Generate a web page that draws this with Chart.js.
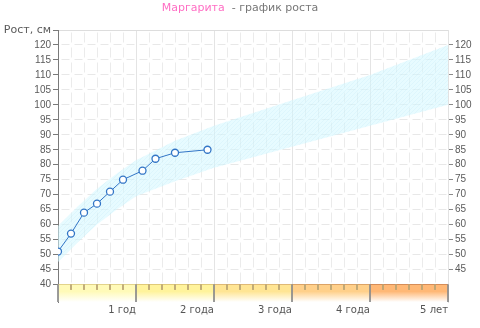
<!DOCTYPE html>
<html>
<head>
<meta charset="utf-8">
<script src="https://cdn.jsdelivr.net/npm/chart.js@4.4.1/dist/chart.umd.min.js"></script>
<style>
  body { margin: 0; background: #fff; }
  #wrap { position: relative; width: 480px; height: 328px; }
  #title {
    position: absolute; left: 0; top: 1px; width: 480px;
    text-align: center; font: 11px "DejaVu Sans", sans-serif;
    line-height: 14px; color: #777;
  }
  #title .name { color: #ff6ec4; }
</style>
</head>
<body>
<div id="wrap">
  <canvas id="chart" width="480" height="328"></canvas>
  <div id="title"><span class="name">Маргарита</span>&nbsp; - график роста</div>
</div>
<script>
// measured growth (age in months, height in cm)
const ageMonths = [0, 2, 4, 6, 8, 10, 13, 15, 18, 23];
const heightCm = [51, 57, 64, 67, 71, 75, 78, 82, 84, 85];

// norm corridor
const bandMonths = [0, 3, 6, 9, 12, 18, 24, 36, 48, 60];
const bandLow = [47.5, 54, 60, 65, 69.5, 74.5, 79, 86, 93, 100];
const bandHigh = [59.5, 66, 72, 77, 81.5, 88, 93, 101.5, 110, 120];

// axes
const leftTicks = [40, 45, 50, 55, 60, 65, 70, 75, 80, 85, 90, 95, 100, 105, 110, 115, 120, 125];
const rightTicks = [45, 50, 55, 60, 65, 70, 75, 80, 85, 90, 95, 100, 105, 110, 115, 120];
const yAxisTitle = "Рост, см";
const yearLabels = ["", "1 год", "2 года", "3 года", "4 года", "5 лет"];

// age strip under the plot
const yearStart = [0, 12, 24, 36, 48];
const yearColors = ["#fffab8", "#fff39c", "#ffe594", "#ffd08a", "#ffb876"];
const yearBorders = ["#e2d38a", "#e0ca78", "#dfb976", "#dca266", "#d68c58"];
const minorTickMonths = [2, 4, 6, 8, 10, 14, 16, 18, 20, 22, 26, 28, 30, 32, 34, 38, 40, 42, 44, 46, 50, 52, 54, 56, 58];
const yearTickMonths = [0, 12, 24, 36, 48, 60];

const Y_MIN = 34.15, Y_MAX = 125, STRIP_TOP = 40;

function hatch() {
  const c = document.createElement("canvas");
  c.width = 4; c.height = 4;
  const g = c.getContext("2d");
  g.fillStyle = "rgba(212, 248, 255, 0.55)";
  g.fillRect(0, 0, 4, 4);
  g.strokeStyle = "rgba(160, 220, 242, 0.14)";
  g.lineWidth = 1;
  g.beginPath();
  g.moveTo(0, 4); g.lineTo(4, 0);
  g.moveTo(-1, 1); g.lineTo(1, -1);
  g.moveTo(3, 5); g.lineTo(5, 3);
  g.stroke();
  return g.createPattern(c, "repeat");
}

function stripFill(color) {
  return function (context) {
    const chart = context.chart;
    const area = chart.chartArea;
    if (!area) return color;
    const top = chart.scales.y.getPixelForValue(STRIP_TOP);
    const grad = chart.ctx.createLinearGradient(0, top, 0, area.bottom);
    grad.addColorStop(0, color);
    grad.addColorStop(0.4, color);
    grad.addColorStop(1, "#ffffff");
    return grad;
  };
}

function tickSegments(months, yTo) {
  let pts = [];
  months.forEach(function (m) {
    pts.push({ x: m, y: STRIP_TOP }, { x: m, y: yTo }, { x: m, y: null });
  });
  return pts;
}

let datasets = [];

datasets.push({
  label: "Рост",
  data: ageMonths.map((m, i) => ({ x: m, y: heightCm[i] })),
  borderColor: "#3275c6",
  borderWidth: 1,
  pointRadius: 3.5,
  pointBorderWidth: 1.3,
  pointBorderColor: "#3275c6",
  pointBackgroundColor: "#ffffff",
  tension: 0,
  order: 0,
});

datasets.push({
  data: tickSegments(minorTickMonths, 38.2),
  borderColor: "#b9a373",
  borderWidth: 1,
  pointRadius: 0,
  spanGaps: false,
  order: 1,
});
datasets.push({
  data: tickSegments(yearTickMonths, Y_MIN),
  borderColor: "#8c8c8c",
  borderWidth: 1,
  pointRadius: 0,
  spanGaps: false,
  clip: 2,
  order: 1,
});

for (let i = 0; i < yearStart.length; i++) {
  datasets.push({
    data: [{ x: yearStart[i], y: STRIP_TOP }, { x: yearStart[i] + 12, y: STRIP_TOP }],
    borderColor: yearBorders[i],
    borderWidth: 1,
    backgroundColor: stripFill(yearColors[i]),
    fill: "start",
    pointRadius: 0,
    order: 2,
  });
}

datasets.push({
  data: bandMonths.map((m, i) => ({ x: m, y: bandLow[i] })),
  borderWidth: 0,
  pointRadius: 0,
  fill: false,
  order: 3,
});
datasets.push({
  data: bandMonths.map((m, i) => ({ x: m, y: bandHigh[i] })),
  borderWidth: 0,
  pointRadius: 0,
  backgroundColor: hatch(),
  fill: "-1",
  order: 3,
});

const config = {
  type: "line",
  data: { datasets: datasets },
  options: {
    responsive: false,
    animation: false,
    layout: { padding: { top: 30, left: 0, right: 0, bottom: 0 } },
    plugins: {
      legend: { display: false },
      tooltip: { enabled: false },
      title: { display: false },
    },
    scales: {
      x: {
        type: "linear",
        min: 0,
        max: 60,
        afterFit: function (scale) { scale.height = 26; },
        border: {
          display: false,
          dash: function (ctx) {
            if (!ctx.tick || ctx.tick.value % 12 === 0) return [];
            return [10, 5];
          },
          dashOffset: 12.5,
        },
        grid: {
          drawTicks: false,
          color: function (ctx) {
            if (ctx.tick && ctx.tick.value % 12 === 0) return "#e4e4e4";
            return "#ebebeb";
          },
        },
        ticks: {
          stepSize: 2,
          autoSkip: false,
          maxRotation: 0,
          minRotation: 0,
          align: "end",
          padding: 2,
          color: "#555",
          font: { family: "DejaVu Sans", size: 10 },
          callback: function (value) {
            return value % 12 === 0 ? yearLabels[value / 12] : "";
          },
        },
      },
      y: {
        type: "linear",
        position: "left",
        min: Y_MIN,
        max: Y_MAX,
        afterFit: function (scale) { scale.width = 58; },
        afterBuildTicks: function (scale) {
          scale.ticks = leftTicks.map((v) => ({ value: v }));
        },
        border: {
          display: true,
          color: "#7a7a7a",
          width: 1,
          dash: function (ctx) {
            if (!ctx.tick || ctx.tick.value === Y_MAX) return [];
            return [8, 5];
          },
          dashOffset: 10.5,
        },
        grid: {
          tickLength: 5,
          tickColor: "#7a7a7a",
          color: function (ctx) {
            if (ctx.tick && ctx.tick.value === Y_MAX) return "#dddddd";
            return "#e8e8e8";
          },
        },
        ticks: {
          autoSkip: false,
          padding: 2,
          color: "#5a5a5a",
          font: function (ctx) {
            if (ctx.tick && ctx.tick.value === Y_MAX) return { family: "DejaVu Sans", size: 11 };
            return { family: "Liberation Sans", size: 10 };
          },
          callback: function (value) {
            return value === Y_MAX ? yAxisTitle : String(value);
          },
        },
      },
      y2: {
        type: "linear",
        position: "right",
        min: Y_MIN,
        max: Y_MAX,
        afterFit: function (scale) { scale.width = 32; },
        afterBuildTicks: function (scale) {
          scale.ticks = rightTicks.map((v) => ({ value: v }));
        },
        border: { display: true, color: "#e2e2e2", width: 1 },
        grid: {
          drawOnChartArea: false,
          tickLength: 5,
          tickColor: "#8a8a8a",
        },
        ticks: {
          autoSkip: false,
          padding: 2,
          color: "#5a5a5a",
          font: { family: "Liberation Sans", size: 10 },
        },
      },
    },
  },
};

const chart = new Chart(document.getElementById("chart"), config);
</script>
</body>
</html>
